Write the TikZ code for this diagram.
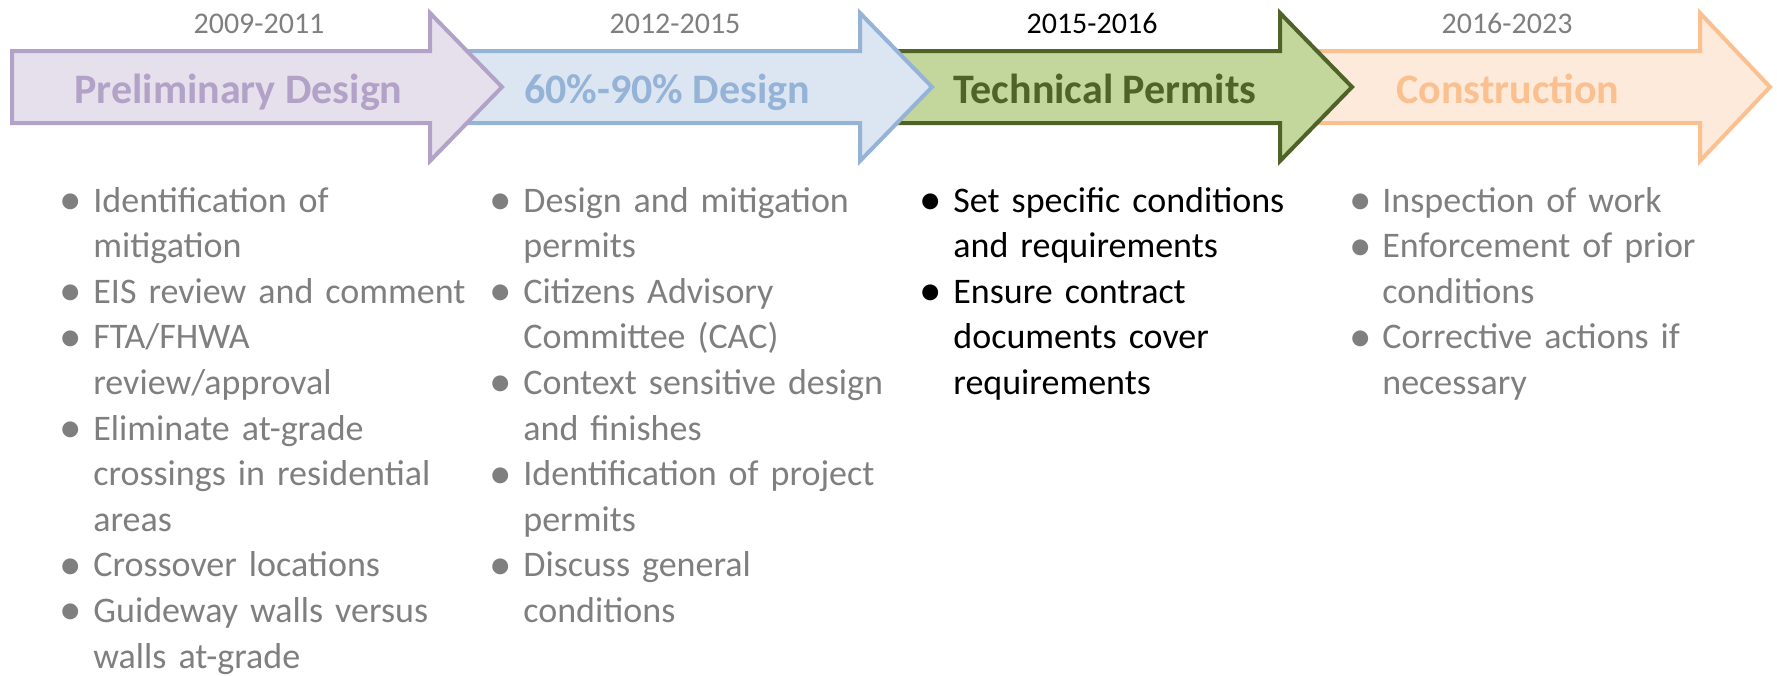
\documentclass[tikz,border=0pt]{standalone}
\usepackage{fontspec}
\setmainfont{Carlito}
\definecolor{purpS}{HTML}{B3A2C7}
\definecolor{purpF}{HTML}{E6E0EC}
\definecolor{blueS}{HTML}{95B3D7}
\definecolor{blueF}{HTML}{DCE6F2}
\definecolor{grnS}{HTML}{4F6228}
\definecolor{grnF}{HTML}{C3D69B}
\definecolor{orS}{HTML}{FAC090}
\definecolor{orF}{HTML}{FDEADA}
\definecolor{txtgray}{HTML}{7F7F7F}
\newcommand\bul{\leavevmode\llap{\raisebox{-1.2pt}{\scalebox{1.25}{\textbullet}}\hspace{5.5pt}}}
\newcommand\phasearrow[4]{\draw[phasebox,#1] (#2,51) -- (#3,51) -- (#3,13) -- (#4,87) -- (#3,161) -- (#3,123) -- (#2,123) -- cycle;}
\begin{document}
\begin{tikzpicture}[x=0.5pt,y=-0.5pt,
  phasebox/.style={line width=2pt, line join=miter},
  phasetitle/.style={anchor=base, inner sep=0pt, font=\fontsize{21}{25}\selectfont\bfseries},
  yearlabel/.style={anchor=base, inner sep=0pt, font=\fontsize{15}{18}\selectfont},
  bulletcol/.style={anchor=base west, inner sep=0pt, text width=205pt, align=left, font=\fontsize{18}{22.8}\selectfont}]
\useasboundingbox (0,0) rectangle (1777,675);
% arrows (drawn right to left so each head overlaps the next body)
\phasearrow{draw=orS, fill=orF}{1280}{1700}{1770}
\phasearrow{draw=grnS, fill=grnF}{860}{1280}{1352}
\phasearrow{draw=blueS, fill=blueF}{435}{860}{932}
\phasearrow{draw=purpS, fill=purpF}{12}{430}{502}
% titles
\node[phasetitle, text=purpS] (t1) at (238.5,103) {Preliminary Design};
\node[phasetitle, text=blueS] (t2) at (667,103) {60\%-90\% Design};
\node[phasetitle, text=grnS] (t3) at (1105,103) {Technical Permits};
\node[phasetitle, text=orS] (t4) at (1508,103) {Construction};
% years
\node[yearlabel, text=txtgray] (y1) at (259,33) {2009-2011};
\node[yearlabel, text=txtgray] (y2) at (675,33) {2012-2015};
\node[yearlabel, text=black] (y3) at (1092,33) {2015-2016};
\node[yearlabel, text=txtgray] (y4) at (1507,33) {2016-2023};
% bullet columns
\node[bulletcol, text=txtgray] (c1) at (93,212) {%
\bul Identification of\\ mitigation\\
\bul EIS review and comment\\
\bul FTA/FHWA\\ review/approval\\
\bul Eliminate at-grade\\ crossings in residential\\ areas\\
\bul Crossover locations\\
\bul Guideway walls versus\\ walls at-grade};
\node[bulletcol, text=txtgray] (c2) at (523,212) {%
\bul Design and mitigation\\ permits\\
\bul Citizens Advisory\\ Committee (CAC)\\
\bul Context sensitive design\\ and finishes\\
\bul Identification of project\\ permits\\
\bul Discuss general\\ conditions};
\node[bulletcol, text=black] (c3) at (953,212) {%
\bul Set specific conditions\\ and requirements\\
\bul Ensure contract\\ documents cover\\ requirements};
\node[bulletcol, text=txtgray] (c4) at (1382,212) {%
\bul Inspection of work\\
\bul Enforcement of prior\\ conditions\\
\bul Corrective actions if\\ necessary};
\end{tikzpicture}
\end{document}
